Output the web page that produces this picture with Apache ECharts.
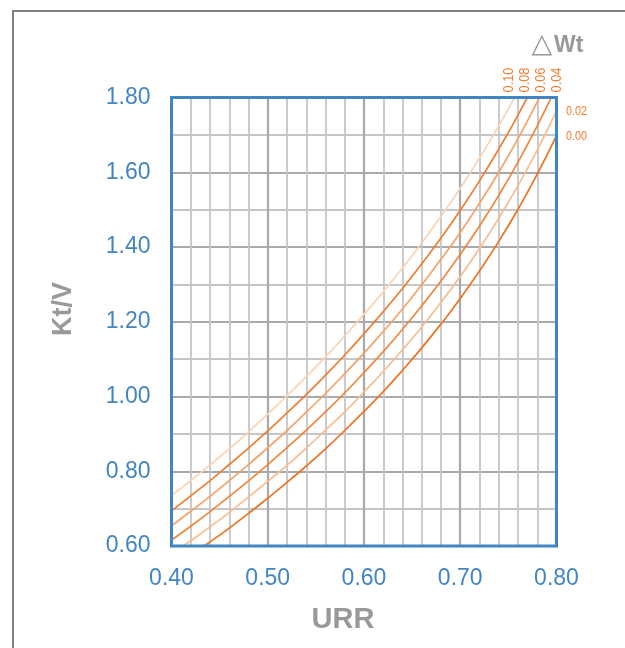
<!DOCTYPE html>
<html>
<head>
<meta charset="utf-8">
<script src="https://cdn.jsdelivr.net/npm/echarts@6/dist/echarts.min.js"></script>
<style>
html,body{margin:0;padding:0;background:#fff;}
#chart{width:625px;height:648px;}
</style>
</head>
<body>
<div id="chart"></div>
<script>
// URR values (x)
var urr = [0.40,0.42,0.44,0.46,0.48,0.50,0.52,0.54,0.56,0.58,0.60,0.62,0.64,0.66,0.68,0.70,0.72,0.74,0.76,0.78,0.80];
// Kt/V curves for each ΔWt
var wt000 = [0.540,0.575,0.611,0.648,0.687,0.728,0.770,0.814,0.860,0.909,0.960,1.013,1.070,1.130,1.194,1.262,1.336,1.415,1.501,1.595,1.698];
var wt002 = [0.578,0.614,0.651,0.690,0.731,0.773,0.816,0.862,0.910,0.959,1.012,1.067,1.125,1.186,1.252,1.321,1.396,1.477,1.564,1.659,1.764];
var wt004 = [0.616,0.653,0.692,0.733,0.774,0.818,0.863,0.910,0.959,1.010,1.064,1.120,1.180,1.243,1.309,1.380,1.456,1.538,1.627,1.724,1.830];
var wt006 = [0.654,0.693,0.733,0.775,0.818,0.863,0.909,0.958,1.008,1.061,1.116,1.174,1.234,1.299,1.367,1.439,1.517,1.600,1.690,1.788,1.896];
var wt008 = [0.694,0.734,0.775,0.818,0.862,0.908,0.956,1.005,1.057,1.111,1.168,1.227,1.289,1.355,1.424,1.498,1.577,1.662,1.753,1.853,1.962];
var wt010 = [0.735,0.775,0.817,0.860,0.905,0.953,1.002,1.053,1.106,1.162,1.220,1.280,1.344,1.411,1.482,1.557,1.638,1.724,1.817,1.918,2.030];
var seriesNames = ['0.00','0.02','0.04','0.06','0.08','0.10'];
var seriesColors = ['#EE7222','#F9BC8E','#F2863A','#F5A267','#F07E2E','#FCD3B2'];
var xTicks = ['0.40','0.50','0.60','0.70','0.80'];
var yTicks = ['0.60','0.80','1.00','1.20','1.40','1.60','1.80'];

var curves = [wt000, wt002, wt004, wt006, wt008, wt010];
var chart = echarts.init(document.getElementById('chart'), null, {renderer:'canvas'});
var blue = '#4285C3';
var orange = '#F47B2A';
var gray = '#999999';

var series = curves.map(function(arr, i){
  return {
    name: seriesNames[i],
    type: 'line',
    smooth: true,
    showSymbol: false,
    clip: true,
    data: urr.map(function(u, k){ return [u, arr[k]]; }),
    lineStyle: {color: seriesColors[i], width: 1.7},
    itemStyle: {color: seriesColors[i]},
    z: 3
  };
});

function smallLabel(txt, x, y, rot, size, sx, align){
  return {type: 'text', x: x, y: y, rotation: rot, scaleX: sx, scaleY: 1,
    style: {text: txt, fill: orange, font: size + 'px Liberation Sans, Arial, sans-serif',
            textAlign: align, textVerticalAlign: 'middle'}};
}

var option = {
  animation: false,
  backgroundColor: '#fff',
  grid: {left: 171.5, top: 97.5, right: 68.5, bottom: 102, show: true,
         borderColor: blue, borderWidth: 3, backgroundColor: 'transparent', z: 4},
  xAxis: {
    type: 'value', min: 0.4, max: 0.8, interval: 0.1,
    axisLine: {show: false}, axisTick: {show: false},
    axisLabel: {color: blue, fontSize: 23, fontFamily: 'Liberation Sans, Arial, sans-serif', margin: 21,
      formatter: function(v){ var s = v.toFixed(2); return xTicks.indexOf(s) >= 0 ? s : ''; }},
    splitLine: {show: true, showMinLine: false, showMaxLine: false, lineStyle: {color: '#A9A9AC', width: 2.2}},
    minorTick: {show: false, splitNumber: 5},
    minorSplitLine: {show: true, lineStyle: {color: '#C6C6C8', width: 1.8}}
  },
  yAxis: {
    type: 'value', min: 0.6, max: 1.8, interval: 0.2,
    axisLine: {show: false}, axisTick: {show: false},
    axisLabel: {color: blue, fontSize: 23, fontFamily: 'Liberation Sans, Arial, sans-serif', margin: 21,
      formatter: function(v){ var s = v.toFixed(2); return yTicks.indexOf(s) >= 0 ? s : ''; }},
    splitLine: {show: true, showMinLine: false, showMaxLine: false, lineStyle: {color: '#A9A9AC', width: 2.2}},
    minorTick: {show: false, splitNumber: 2},
    minorSplitLine: {show: true, lineStyle: {color: '#C6C6C8', width: 1.8}}
  },
  series: series,
  graphic: [
    {type: 'rect', silent: true, shape: {x: 13, y: 11, width: 800, height: 800},
     style: {fill: 'none', stroke: '#7F7F7F', lineWidth: 2}, z: 0},
    {type: 'text', x: 64, y: 309, rotation: Math.PI/2,
     style: {text: 'Kt/V', fill: gray, font: 'bold 27px Liberation Sans, Arial, sans-serif', textAlign: 'center', textVerticalAlign: 'middle'}},
    {type: 'text', x: 343, y: 620,
     style: {text: 'URR', fill: gray, font: 'bold 29px Liberation Sans, Arial, sans-serif', textAlign: 'center', textVerticalAlign: 'middle'}},
    {type: 'text', x: 542, y: 45,
     style: {text: '\u25B3', fill: gray, font: 'bold 27px DejaVu Sans, sans-serif', textAlign: 'center', textVerticalAlign: 'middle'}},
    {type: 'text', x: 554, y: 46,
     style: {text: 'Wt', fill: gray, font: 'bold 23px Liberation Sans, Arial, sans-serif', textAlign: 'left', textVerticalAlign: 'middle'}},
    smallLabel('0.10', 509, 80, Math.PI/2, 15, 0.85, 'center'),
    smallLabel('0.08', 525, 80, Math.PI/2, 15, 0.85, 'center'),
    smallLabel('0.06', 541, 80, Math.PI/2, 15, 0.85, 'center'),
    smallLabel('0.04', 557, 80, Math.PI/2, 15, 0.85, 'center'),
    smallLabel('0.02', 566, 111, 0, 13, 0.83, 'left'),
    smallLabel('0.00', 566, 136, 0, 13, 0.83, 'left')
  ]
};
chart.setOption(option);
</script>
</body>
</html>
